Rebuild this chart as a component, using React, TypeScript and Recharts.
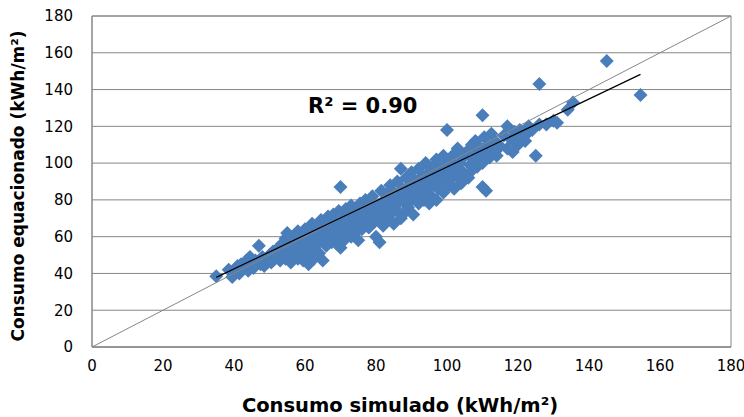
import { ScatterChart, Scatter, XAxis, YAxis, CartesianGrid, ReferenceArea } from "recharts";

// consumo simulado x consumo equacionado (kWh/m²)
const pontos: [number, number][] = [
  [35, 38.5], [38.5, 42], [39.5, 38], [40, 41], [41, 44], [41.5, 40], [42, 45], [43, 43], [43.5, 47], [44, 41.5],
  [44.5, 49], [45, 45], [45.5, 43], [46, 47], [47, 55], [47.5, 45], [48, 49], [48.5, 44], [49, 47], [50, 50],
  [50.5, 46], [51, 52], [51.5, 48], [52, 50], [52.5, 54], [53, 47], [53.5, 56], [54, 51], [54.5, 59], [54.5, 48],
  [55, 62], [55.5, 53], [56, 57], [56, 46], [56.5, 60], [57, 50], [57.5, 55], [58, 63], [58, 48], [58.5, 58],
  [59, 52], [59, 61], [59.5, 47], [60, 64], [60, 55], [60.5, 50], [61, 58], [61, 45], [61.5, 62], [62, 53],
  [62, 67], [62.5, 48], [63, 60], [63.5, 56], [64, 64], [64, 51], [64.5, 69], [65, 58], [65, 47], [65.5, 62],
  [66, 66], [66, 55], [66.5, 71], [67, 60], [67, 68], [67.5, 57], [68, 64], [68, 72], [68.5, 62], [69, 56],
  [69, 67], [69.5, 74], [70, 87], [70, 61], [70, 54], [70.5, 65], [71, 70], [71, 58], [71.5, 75], [72, 63],
  [72, 68], [72.5, 72], [73, 60], [73, 77], [73.5, 66], [74, 70], [74, 62], [74.5, 74], [75, 58], [75, 67],
  [75.5, 78], [76, 72], [76, 64], [76.5, 69], [77, 76], [77, 80], [77.5, 66], [78, 73], [78, 65], [78.5, 70],
  [79, 78], [79, 82], [79.5, 68], [80, 74], [80, 60], [80.5, 77], [81, 57], [81, 71], [81.5, 85], [82, 79],
  [82, 66], [82.5, 74], [83, 83], [83, 70], [83.5, 76], [84, 88], [84, 72], [84.5, 80], [85, 67], [85, 84],
  [85.5, 77], [86, 90], [86, 74], [86.5, 82], [87, 97], [87, 70], [87.5, 86], [88, 79], [88, 73], [88.5, 92],
  [89, 84], [89, 76], [89.5, 88], [90, 80], [90, 95], [90.5, 72], [91, 86], [91, 90], [91.5, 82], [92, 97],
  [92, 78], [92.5, 88], [93, 84], [93, 93], [93.5, 80], [94, 100], [94, 87], [94.5, 91], [95, 83], [95, 95],
  [95, 78], [96, 98], [96, 88], [96.5, 92], [97, 80], [97, 102], [97.5, 86], [98, 95], [98, 90], [98.5, 99],
  [99, 84], [99, 104], [99.5, 93], [100, 118], [100, 97], [100.5, 88], [101, 101], [101, 91], [101.5, 95], [102, 105],
  [102, 86], [102.5, 98], [103, 93], [103, 108], [103.5, 100], [104, 89], [104, 96], [104.5, 103], [105, 94], [105.5, 106],
  [106, 92], [106.5, 99], [107, 110], [107, 96], [107.5, 102], [108, 106], [108, 112], [108.5, 98], [109, 104], [109.5, 108],
  [110, 126], [110, 100], [110, 87], [110.5, 114], [111, 85], [111, 106], [111.5, 110], [112, 103], [112.5, 116], [113, 106],
  [113.5, 112], [114, 104], [115, 109], [116, 115], [117, 108], [117, 120], [118, 113], [118.5, 106], [119, 117], [120, 110],
  [120.5, 118], [121, 114], [122, 112], [122.5, 116], [123, 120], [124, 118], [125, 104], [126, 143], [126, 121], [128, 121],
  [130, 123], [131, 122], [134, 129], [135.5, 133], [145, 155.5], [154.5, 137],
];

const ticks = [0, 20, 40, 60, 80, 100, 120, 140, 160, 180];

// reta 1:1
const identidade = [0, 180];

// linear trend shown in the figure
const trendSlope = 0.924;
const trendIntercept = 5.5;
const trendRange = [35, 154.5];
const r2Label = "R² = 0.90";

const data = pontos.map(([x, y]) => ({ x, y }));
const lineOneToOne = identidade.map((v) => ({ x: v, y: v }));
const lineTrend = trendRange.map((x) => ({ x, y: trendSlope * x + trendIntercept }));

const gray = "#868686";
const blue = "#4A7EBB";
const font = "'DejaVu Sans', Verdana, sans-serif";

function Diamond(props: any) {
  const { cx, cy } = props;
  if (cx == null || cy == null) return null;
  const r = 7;
  return <path d={`M${cx},${cy - r}L${cx + r},${cy}L${cx},${cy + r}L${cx - r},${cy}Z`} fill={blue} />;
}

const NoDot = () => <g />;

export default function App() {
  return (
    <div style={{ position: "relative", width: 744, height: 417, fontFamily: font }}>
      <style>{"body{margin:0}"}</style>
      <ScatterChart width={744} height={417} margin={{ top: 16, right: 13, left: 0, bottom: 0 }}>
        <CartesianGrid vertical={false} stroke={gray} />
        <ReferenceArea x1={0} x2={180} y1={0} y2={180} fill="none" stroke={gray} fillOpacity={0} />
        <XAxis
          type="number"
          dataKey="x"
          domain={[0, 180]}
          ticks={ticks}
          height={70}
          stroke={gray}
          tickLine={false}
          tickSize={8}
          tickMargin={5}
          tick={{ fill: "#000", fontSize: 15, fontFamily: font }}
        />
        <YAxis
          type="number"
          dataKey="y"
          domain={[0, 180]}
          ticks={ticks}
          width={92}
          stroke={gray}
          tickLine={false}
          tickSize={8}
          tickMargin={11}
          tick={{ fill: "#000", fontSize: 15, fontFamily: font }}
        />
        <Scatter data={data} shape={<Diamond />} isAnimationActive={false} />
        <Scatter data={lineOneToOne} line={{ stroke: gray, strokeWidth: 1 }} shape={<NoDot />} isAnimationActive={false} />
        <Scatter data={lineTrend} line={{ stroke: "#000", strokeWidth: 1.2 }} shape={<NoDot />} isAnimationActive={false} />
      </ScatterChart>
      <div style={{ position: "absolute", left: 308, top: 94, fontSize: 21, fontWeight: "bold", whiteSpace: "nowrap" }}>
        {r2Label}
      </div>
      <div
        style={{
          position: "absolute",
          left: 200,
          width: 400,
          top: 394,
          textAlign: "center",
          fontSize: 19.5,
          fontWeight: "bold",
          whiteSpace: "nowrap",
        }}
      >
        Consumo simulado (kWh/m²)
      </div>
      <div
        style={{
          position: "absolute",
          left: 18,
          top: 186,
          transform: "translate(-50%, -50%) rotate(-90deg)",
          fontSize: 17,
          fontWeight: "bold",
          whiteSpace: "nowrap",
        }}
      >
        Consumo equacionado (kWh/m²)
      </div>
    </div>
  );
}
